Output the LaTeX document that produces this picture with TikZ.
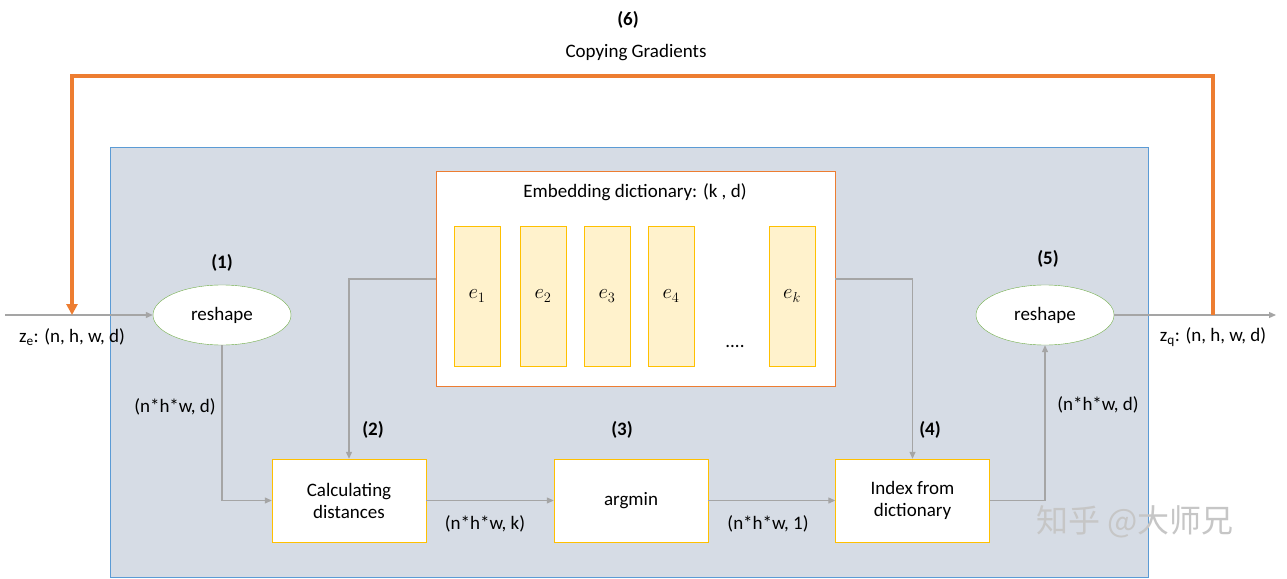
\documentclass[tikz,border=0pt]{standalone}
\usepackage{fontspec}
\setmainfont{Carlito}
\newfontfamily\cjk{Noto Sans CJK SC}
\usetikzlibrary{shapes.geometric,arrows.meta}
\definecolor{bg}{HTML}{D6DCE5}
\definecolor{bgb}{HTML}{5B9BD5}
\definecolor{org}{HTML}{ED7D31}
\definecolor{yel}{HTML}{FFC000}
\definecolor{yfill}{HTML}{FFF2CC}
\definecolor{grn}{HTML}{70AD47}
\definecolor{gar}{HTML}{A5A5A5}
\begin{document}
\begin{tikzpicture}[x=1pt,y=-1pt,font=\fontsize{19}{22}\selectfont,
  bar/.style={draw=yel,fill=yfill,minimum width=46pt,minimum height=140pt,inner sep=0pt,font=\fontsize{21}{24}\selectfont},
  op/.style={draw=yel,fill=white,minimum width=154pt,minimum height=83pt,align=center},
  ell/.style={ellipse,draw=grn,fill=white,minimum width=138pt,minimum height=60pt},
  conn/.style={draw=gar,line width=1.2pt,-{Triangle[length=7pt,width=6pt]}},
  num/.style={font=\fontsize{19}{22}\selectfont\bfseries}]
\useasboundingbox (0,0) rectangle (1287,578);
\fill[bg,draw=bgb] (110,147) rectangle (1148,577);
\node[draw=org,fill=white,minimum width=399pt,minimum height=215pt,inner sep=0pt] (emb) at (635.5,278.5) {};
\node (embt) at (635,192) {Embedding dictionary: (k , d)};
\node[bar] (b1) at (477,296) {$e_1$};
\node[bar] (b2) at (543,296) {$e_2$};
\node[bar] (b3) at (607,296) {$e_3$};
\node[bar] (b4) at (671,296) {$e_4$};
\node[bar] (bk) at (792,296) {$e_k$};
\node (dots) at (735,346) {....};
\node[ell] (r1) at (222,315) {reshape};
\node[ell] (r5) at (1045,315) {reshape};
\node[num] (n1) at (222,263) {(1)};
\node[num] (n5) at (1048,259) {(5)};
\node[op] (calc) at (349,500.5) {Calculating\\distances};
\node[op] (argm) at (631,500.5) {argmin};
\node[op] (idx) at (912.5,500.5) {Index from\\dictionary};
\node[num] (n2) at (373,430) {(2)};
\node[num] (n3) at (622,430) {(3)};
\node[num] (n4) at (930,430) {(4)};
\coordinate (in) at (5,315);
\coordinate (out) at (1276,315);
\draw[conn] (in) -- (r1);
\draw[conn] (r5) -- (out);
\draw[conn] (r1.south) |- (calc.west);
\draw[conn] (emb.west|-0,279) -| (calc.north);
\draw[conn] (emb.east|-0,279) -| (idx.north);
\draw[conn] (calc) -- (argm);
\draw[conn] (argm) -- (idx);
\draw[conn] (idx.east) -| (r5.south);
\coordinate (os) at (1213,315);
\coordinate (oe) at (72,315);
\draw[org,line width=3.2pt,-{Triangle[length=11pt,width=11pt]}] (os) -- (1213,76) -- (72,76) -- (oe);
\node (ze) at (72,337) {z$_\mathrm{e}$: (n, h, w, d)};
\node (zq) at (1213,337) {z$_\mathrm{q}$: (n, h, w, d)};
\node (l1) at (175,407) {(n*h*w, d)};
\node (l2) at (485,524) {(n*h*w, k)};
\node (l3) at (768,524) {(n*h*w, 1)};
\node (l4) at (1098,405) {(n*h*w, d)};
\node[num] (n6) at (628,20) {(6)};
\node (cg) at (636,53) {Copying Gradients};
\node[text=white!55!gray,font=\cjk\fontsize{32}{36}\selectfont] (wm) at (1135,522) {知乎 @大师兄};
\end{tikzpicture}
\end{document}
